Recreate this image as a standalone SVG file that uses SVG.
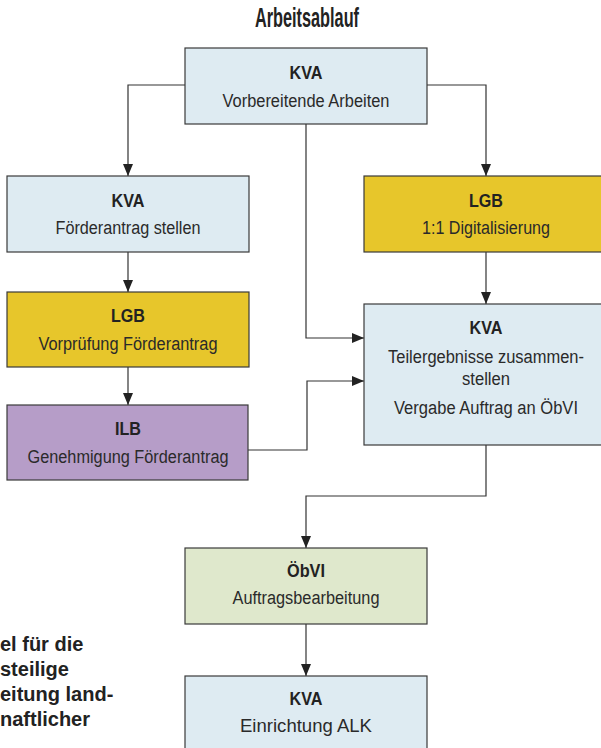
<svg xmlns="http://www.w3.org/2000/svg" width="601" height="748" viewBox="0 0 601 748">
<defs>
<marker id="arr" markerUnits="userSpaceOnUse" markerWidth="12" markerHeight="10" refX="12" refY="5" orient="auto">
<path d="M0,0 L12,5 L0,10 Z" fill="#222"/>
</marker>
<style>
.box{stroke:#3a3a3a;stroke-width:1.2}
.blue{fill:#deebf2}
.yellow{fill:#e7c62b}
.purple{fill:#b69dc8}
.green{fill:#dfe8cc}
.h{font-family:"Liberation Sans",Arial,sans-serif;font-weight:bold;font-size:18px;fill:#222;text-anchor:middle}
.t{font-family:"Liberation Sans",Arial,sans-serif;font-size:18px;fill:#2a2a2a;text-anchor:middle}
.c{fill:none;stroke:#333;stroke-width:1.2}
.side{font-family:"Liberation Sans",Arial,sans-serif;font-weight:bold;font-size:20px;fill:#222}
</style>
</defs>
<rect width="601" height="748" fill="#ffffff"/>
<text x="307" y="27" font-family="'Liberation Sans',Arial,sans-serif" font-weight="bold" font-size="27" fill="#222" text-anchor="middle" textLength="104" lengthAdjust="spacingAndGlyphs">Arbeitsablauf</text>

<g id="connectors">
<path class="c" d="M185,85 H128 V176" marker-end="url(#arr)"/>
<path class="c" d="M427,85 H486 V176" marker-end="url(#arr)"/>
<path class="c" d="M306,124 V338 H364" marker-end="url(#arr)"/>
<path class="c" d="M128,252 V292" marker-end="url(#arr)"/>
<path class="c" d="M128,367 V405" marker-end="url(#arr)"/>
<path class="c" d="M248,450 H307 V381 H364" marker-end="url(#arr)"/>
<path class="c" d="M486,252 V304" marker-end="url(#arr)"/>
<path class="c" d="M486,445 V496 H306 V548" marker-end="url(#arr)"/>
<path class="c" d="M306,624 V676" marker-end="url(#arr)"/>
</g>

<g id="n1">
<rect class="box blue" x="185" y="48" width="242" height="76"/>
<text class="h" x="306" y="79" textLength="33" lengthAdjust="spacingAndGlyphs">KVA</text>
<text class="t" x="306" y="107" textLength="167" lengthAdjust="spacingAndGlyphs">Vorbereitende Arbeiten</text>
</g>

<g id="n2">
<rect class="box blue" x="7" y="176" width="242" height="76"/>
<text class="h" x="128" y="207" textLength="33" lengthAdjust="spacingAndGlyphs">KVA</text>
<text class="t" x="128" y="234" textLength="145" lengthAdjust="spacingAndGlyphs">Förderantrag stellen</text>
</g>

<g id="n3">
<rect class="box yellow" x="7" y="292" width="242" height="75"/>
<text class="h" x="128" y="322" textLength="34" lengthAdjust="spacingAndGlyphs">LGB</text>
<text class="t" x="128" y="350" textLength="179" lengthAdjust="spacingAndGlyphs">Vorprüfung Förderantrag</text>
</g>

<g id="n4">
<rect class="box purple" x="7" y="405" width="241" height="75"/>
<text class="h" x="128" y="435" textLength="26" lengthAdjust="spacingAndGlyphs">ILB</text>
<text class="t" x="128" y="463" textLength="201" lengthAdjust="spacingAndGlyphs">Genehmigung Förderantrag</text>
</g>

<g id="n5">
<rect class="box yellow" x="364" y="176" width="250" height="76"/>
<text class="h" x="486" y="207" textLength="34" lengthAdjust="spacingAndGlyphs">LGB</text>
<text class="t" x="486" y="234" textLength="128" lengthAdjust="spacingAndGlyphs">1:1 Digitalisierung</text>
</g>

<g id="n6">
<rect class="box blue" x="364" y="304" width="250" height="141"/>
<text class="h" x="486" y="334" textLength="33" lengthAdjust="spacingAndGlyphs">KVA</text>
<text class="t" x="486" y="363" textLength="196" lengthAdjust="spacingAndGlyphs">Teilergebnisse zusammen-</text>
<text class="t" x="486" y="385" textLength="48" lengthAdjust="spacingAndGlyphs">stellen</text>
<text class="t" x="486" y="414" textLength="184" lengthAdjust="spacingAndGlyphs">Vergabe Auftrag an ÖbVI</text>
</g>

<g id="n7">
<rect class="box green" x="185" y="548" width="242" height="76"/>
<text class="h" x="306" y="577" textLength="38" lengthAdjust="spacingAndGlyphs">ÖbVI</text>
<text class="t" x="306" y="604" textLength="147" lengthAdjust="spacingAndGlyphs">Auftragsbearbeitung</text>
</g>

<g id="n8">
<rect class="box blue" x="185" y="676" width="242" height="80"/>
<text class="h" x="306" y="705" textLength="33" lengthAdjust="spacingAndGlyphs">KVA</text>
<text class="t" x="306" y="732" textLength="132" lengthAdjust="spacingAndGlyphs">Einrichtung ALK</text>
</g>

<g id="sidetext">
<text class="side" x="0" y="651">el für die</text>
<text class="side" x="0" y="676">steilige</text>
<text class="side" x="0" y="701">eitung land-</text>
<text class="side" x="0" y="726">naftlicher</text>
</g>
</svg>
